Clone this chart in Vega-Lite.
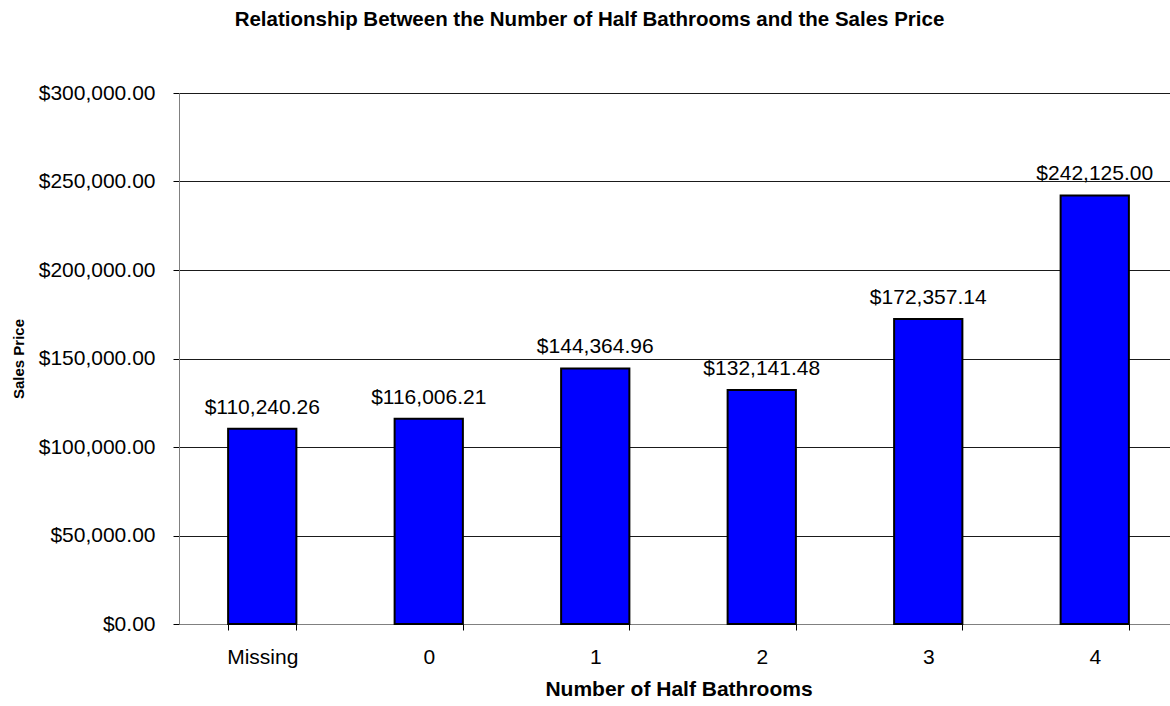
{
  "$schema": "https://vega.github.io/schema/vega-lite/v6.json",
  "autosize": {"type": "none"},
  "width": 999,
  "height": 531,
  "padding": {"left": 179, "top": 93, "right": 0, "bottom": 82},
  "background": "white",
  "config": {"font": "Liberation Sans", "view": {"stroke": null}},
  "title": {
    "text": "Relationship Between the Number of Half Bathrooms and the Sales Price",
    "fontSize": 20.5,
    "fontWeight": "bold",
    "font": "Liberation Sans",
    "color": "#000000",
    "anchor": "middle",
    "dx": -89,
    "offset": 52
  },
  "data": {
    "values": [
      {"cat": "Missing", "price": 110240.26},
      {"cat": "0", "price": 116006.21},
      {"cat": "1", "price": 144364.96},
      {"cat": "2", "price": 132141.48},
      {"cat": "3", "price": 172357.14},
      {"cat": "4", "price": 242125.00}
    ]
  },
  "encoding": {
    "x": {
      "field": "cat",
      "type": "ordinal",
      "sort": null,
      "scale": {"paddingInner": 0.59, "paddingOuter": 0.295},
      "axis": {
        "title": "Number of Half Bathrooms",
        "titleFontSize": 21,
        "titleFontWeight": "bold",
        "titleColor": "#000000",
        "titlePadding": 11,
        "labelFontSize": 21,
        "labelColor": "#000000",
        "labelAngle": 0,
        "labelPadding": 16,
        "tickBand": "extent",
        "tickSize": 6,
        "tickColor": "#000000",
        "domainColor": "#808080",
        "grid": false
      }
    },
    "y": {
      "field": "price",
      "type": "quantitative",
      "scale": {"domain": [0, 300000], "nice": false},
      "axis": {
        "title": "Sales Price",
        "titleFontSize": 15,
        "titleFontWeight": "bold",
        "titleColor": "#000000",
        "titlePadding": 12,
        "labelFontSize": 21,
        "labelColor": "#000000",
        "labelPadding": 18,
        "format": "$,.2f",
        "values": [0, 50000, 100000, 150000, 200000, 250000, 300000],
        "tickSize": 6,
        "tickColor": "#000000",
        "domainColor": "#808080",
        "grid": true,
        "gridColor": "#1a1a1a",
        "gridOpacity": 1,
        "gridWidth": 1
      }
    }
  },
  "layer": [
    {
      "mark": {"type": "bar", "color": "#0000FF", "stroke": "#000000", "strokeWidth": 2}
    },
    {
      "mark": {"type": "text", "baseline": "alphabetic", "dy": -15, "fontSize": 21, "color": "#000000"},
      "encoding": {
        "text": {"field": "price", "type": "quantitative", "format": "$,.2f"}
      }
    }
  ]
}
